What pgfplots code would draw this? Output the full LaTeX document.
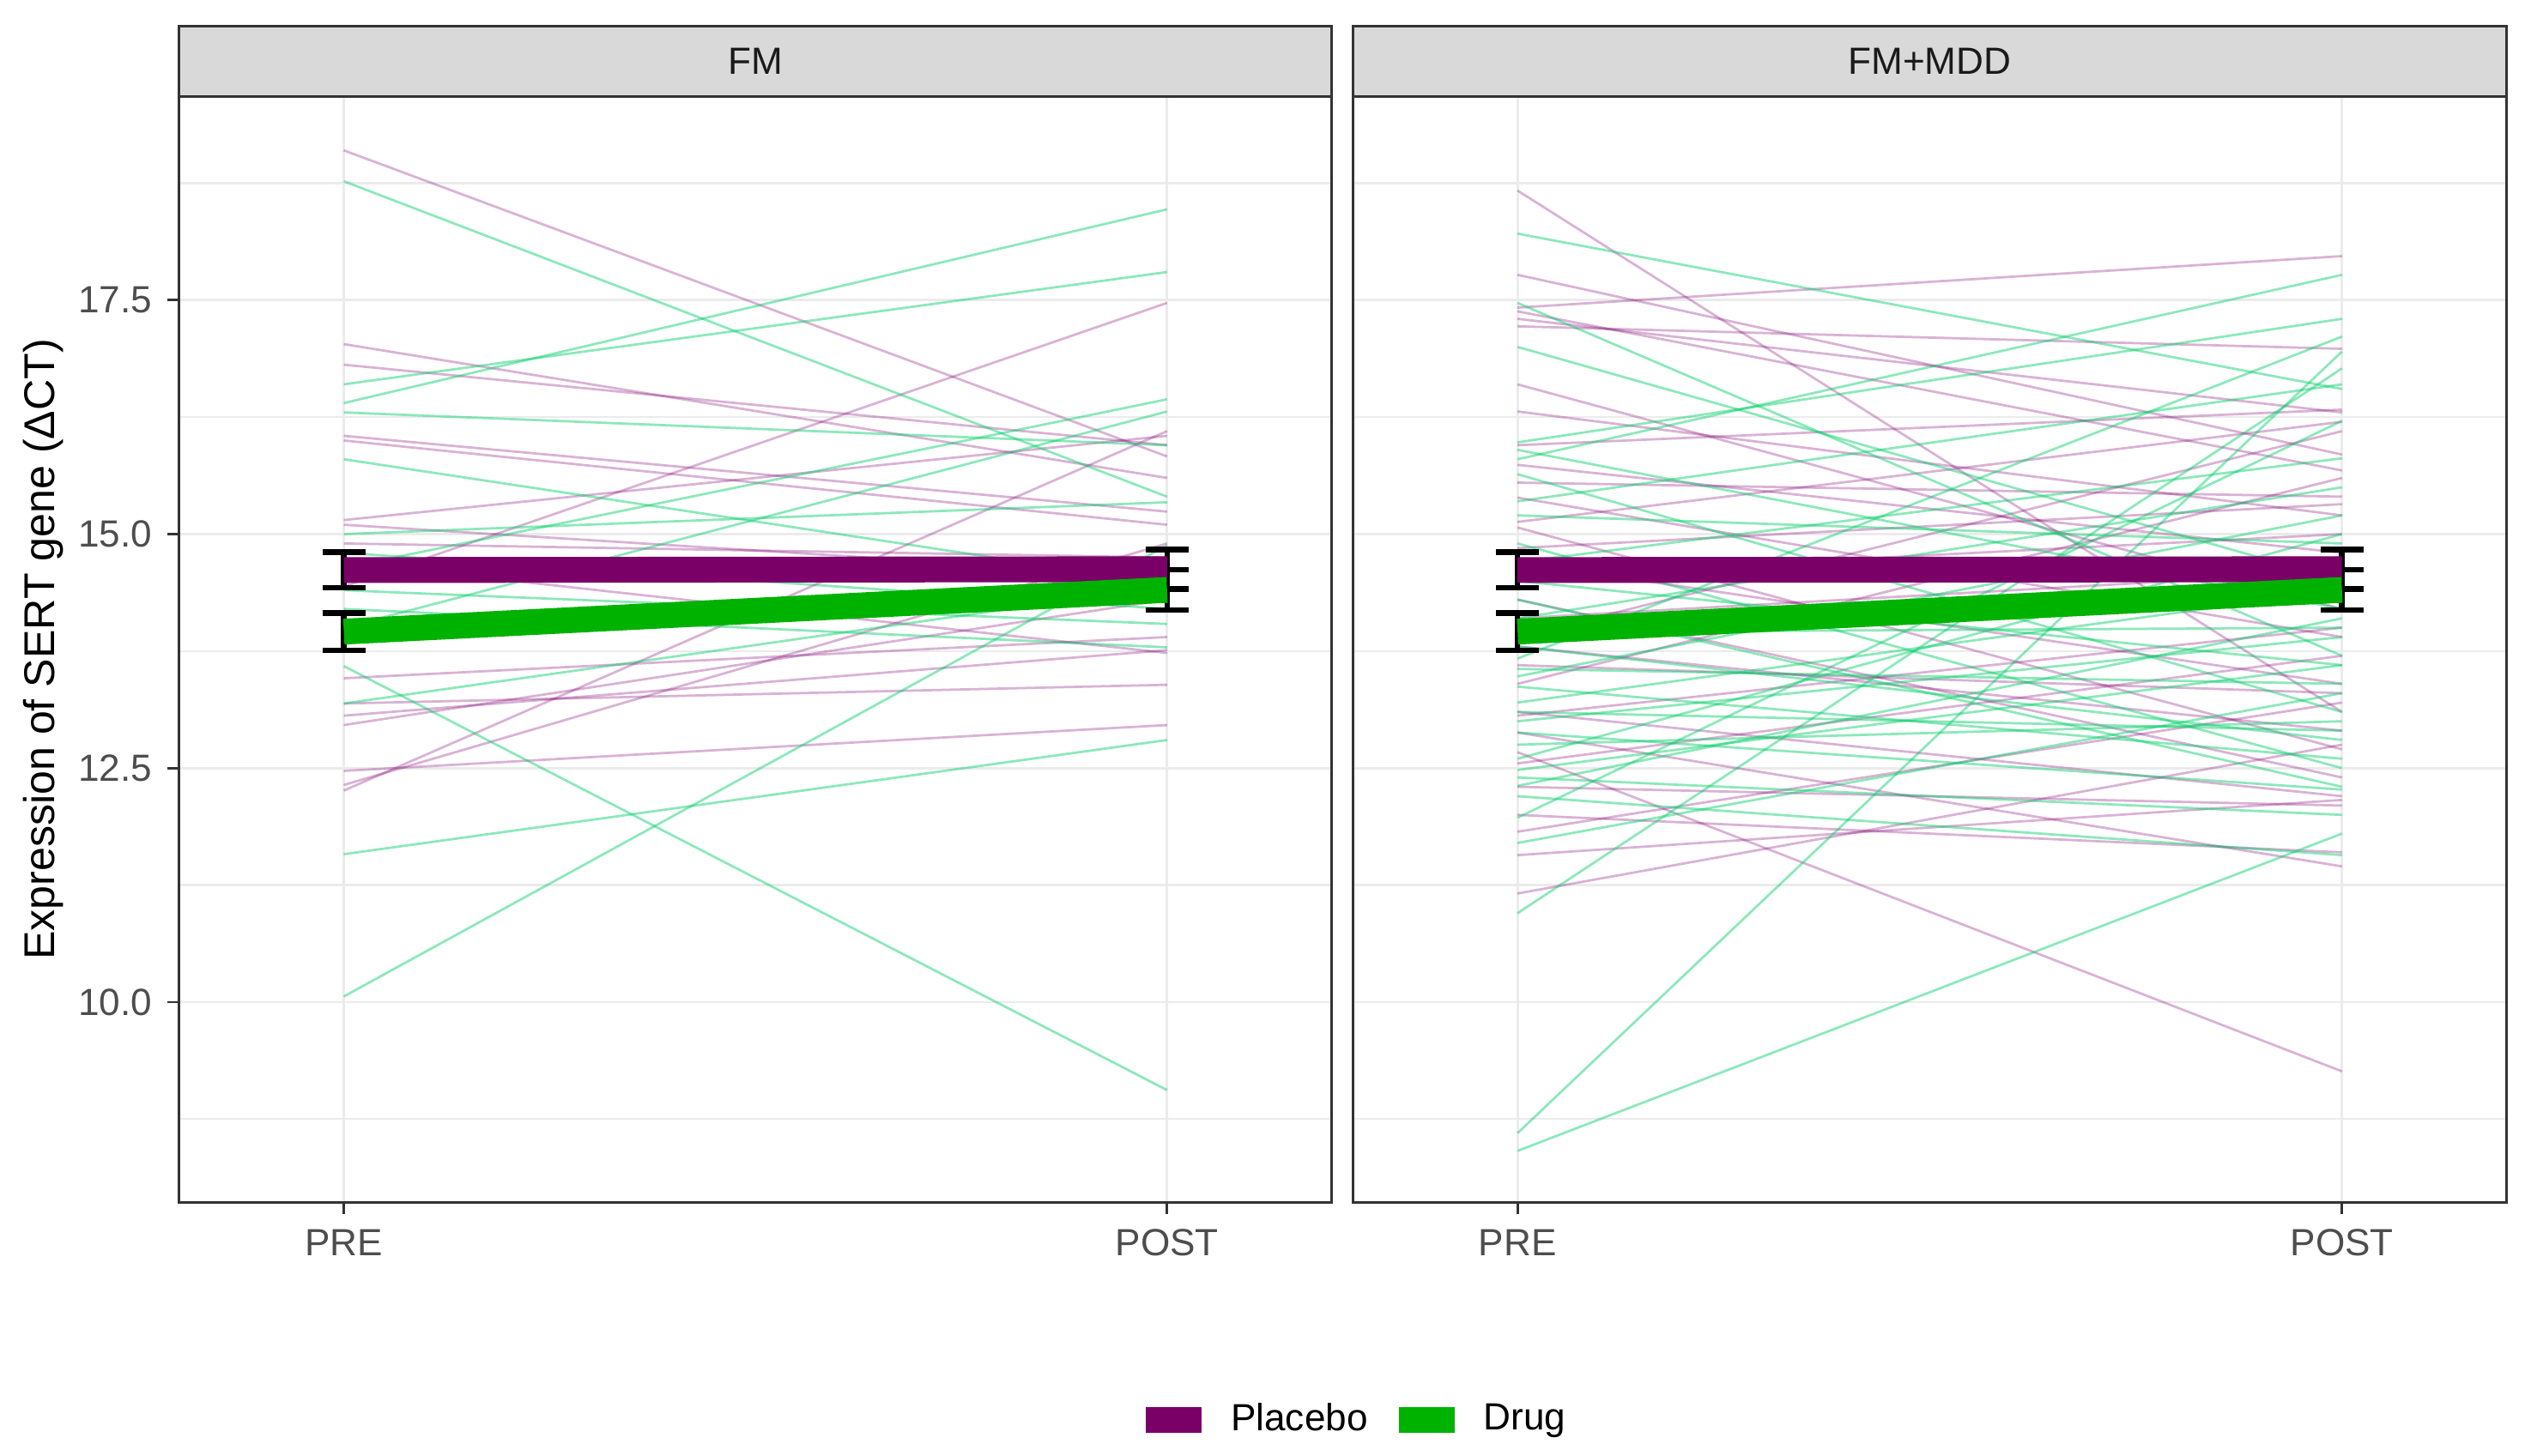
\documentclass[border=0pt]{standalone}
\usepackage{fontspec}
\setmainfont{Liberation Sans}
\usepackage{pgfplots}
\pgfplotsset{compat=1.18}
\definecolor{pmean}{RGB}{122,0,104}
\definecolor{dmean}{RGB}{0,178,0}
\definecolor{pthin}{RGB}{128,0,115}
\definecolor{dthin}{RGB}{0,205,102}
\definecolor{gridc}{RGB}{235,235,235}
\definecolor{framec}{RGB}{51,51,51}
\definecolor{ticklab}{RGB}{77,77,77}
\definecolor{stripfill}{RGB}{217,217,217}
\definecolor{striptext}{RGB}{26,26,26}
\pgfplotsset{
  panel/.style={
    scale only axis, height=256.875pt,
    xmin=-0.2, xmax=1.2, ymin=7.862, ymax=19.672,
    xtick={0,1}, xticklabels={PRE,POST},
    ytick={10,12.5,15,17.5}, minor ytick={8.75,11.25,13.75,16.25,18.75},
    xmajorgrids=true, ymajorgrids=true, yminorgrids=true,
    major grid style={gridc, line width=0.55pt},
    minor grid style={gridc, line width=0.45pt},
    axis line style={framec, line width=0.6pt},
    tick pos=left, tick align=outside, major tick length=2.75pt, minor tick length=0pt,
    tick style={framec, line width=0.55pt},
    ticklabel style={font=\fontsize{8.8}{10}\selectfont, text=ticklab},
    /pgf/number format/assume math mode=true,
    yticklabel style={/pgf/number format/.cd, fixed, fixed zerofill, precision=1},
    clip=false,
  },
  pl/.style={pthin, opacity=0.3, line width=0.55pt, forget plot, mark=none},
  dl/.style={dthin, opacity=0.45, line width=0.55pt, forget plot, mark=none},
  pm/.style={pmean, line width=6pt, mark=none},
  dm/.style={dmean, line width=6pt, mark=none},
  eb/.style={black, mark=none, forget plot,
    error bars/.cd, y dir=both, y explicit, error mark=|,
    error bar style={black, line width=1.3pt},
    error mark options={black, line width=1.3pt, mark size=5pt}},
}
\begin{document}
\begin{tikzpicture}
\useasboundingbox (0,0) rectangle (588pt,338.25pt);
% ---------------- FM panel ----------------
\begin{axis}[panel, at={(41.625pt,58.875pt)}, anchor=south west, width=267.75pt,
  ylabel={Expression of SERT gene (ΔCT)},
  ylabel style={font=\fontsize{10.5}{12}\selectfont, text=black},
  every axis y label/.style={at={(axis description cs:-0.1176,0.5)}, rotate=90, anchor=center},
  legend columns=2,
  legend image code/.code={\draw[#1] (0pt,0pt) -- (13pt,0pt);},
  legend style={at={(axis description cs:1.0154,-0.197)}, anchor=center, draw=none, fill=none,
    font=\fontsize{8.8}{10}\selectfont, nodes={inner sep=0pt},
    /tikz/every odd column/.append style={column sep=3.75pt},
    /tikz/every even column/.append style={column sep=4.2pt}},
]
\draw[framec, fill=stripfill, line width=0.6pt] (rel axis cs:0,1) rectangle (rel axis cs:1,1.0642);
\node[text=striptext, font=\fontsize{8.8}{10}\selectfont] at (rel axis cs:0.5,1.0321) {FM};
% placebo subjects
\addplot[pl] coordinates {(0,19.10) (1,15.83)};
\addplot[pl] coordinates {(0,17.03) (1,15.60)};
\addplot[pl] coordinates {(0,16.81) (1,15.95)};
\addplot[pl] coordinates {(0,16.05) (1,15.24)};
\addplot[pl] coordinates {(0,16.00) (1,15.10)};
\addplot[pl] coordinates {(0,15.15) (1,16.05)};
\addplot[pl] coordinates {(0,15.10) (1,14.55)};
\addplot[pl] coordinates {(0,14.90) (1,14.75)};
\addplot[pl] coordinates {(0,14.44) (1,17.47)};
\addplot[pl] coordinates {(0,14.70) (1,13.73)};
\addplot[pl] coordinates {(0,13.46) (1,13.90)};
\addplot[pl] coordinates {(0,13.19) (1,13.39)};
\addplot[pl] coordinates {(0,13.06) (1,13.76)};
\addplot[pl] coordinates {(0,12.96) (1,14.30)};
\addplot[pl] coordinates {(0,12.47) (1,12.96)};
\addplot[pl] coordinates {(0,12.32) (1,14.90)};
\addplot[pl] coordinates {(0,12.26) (1,16.10)};
% drug subjects
\addplot[dl] coordinates {(0,18.77) (1,15.40)};
\addplot[dl] coordinates {(0,16.60) (1,17.80)};
\addplot[dl] coordinates {(0,16.40) (1,18.47)};
\addplot[dl] coordinates {(0,16.30) (1,15.95)};
\addplot[dl] coordinates {(0,15.80) (1,14.47)};
\addplot[dl] coordinates {(0,15.00) (1,15.34)};
\addplot[dl] coordinates {(0,14.64) (1,16.44)};
\addplot[dl] coordinates {(0,14.00) (1,16.31)};
\addplot[dl] coordinates {(0,14.40) (1,14.04)};
\addplot[dl] coordinates {(0,13.59) (1,9.06)};
\addplot[dl] coordinates {(0,13.19) (1,14.44)};
\addplot[dl] coordinates {(0,11.58) (1,12.80)};
\addplot[dl] coordinates {(0,10.06) (1,14.88)};
\addplot[dl] coordinates {(0,14.20) (1,13.79)};
\addplot[dl] coordinates {(0,14.80) (1,14.20)};
% group means with error bars
\addplot[eb] coordinates {(0,14.616) +- (0,0.19)};
\addplot[eb] coordinates {(1,14.625) +- (0,0.21)};
\addplot[eb] coordinates {(0,13.958) +- (0,0.20)};
\addplot[eb] coordinates {(1,14.404) +- (0,0.217)};
\addplot[pm] coordinates {(0,14.616) (1,14.625)};
\addlegendentry{Placebo}
\addplot[dm] coordinates {(0,13.958) (1,14.404)};
\addlegendentry{Drug}
\end{axis}
% ---------------- FM+MDD panel ----------------
\begin{axis}[panel, at={(314.25pt,58.875pt)}, anchor=south west, width=268.125pt,
  yticklabels={}, major y tick style={draw=none}, minor y tick style={draw=none}]
\draw[framec, fill=stripfill, line width=0.6pt] (rel axis cs:0,1) rectangle (rel axis cs:1,1.0642);
\node[text=striptext, font=\fontsize{8.8}{10}\selectfont] at (rel axis cs:0.5,1.0321) {FM+MDD};
% placebo subjects
\addplot[pl] coordinates {(0,18.67) (1,13.10)};
\addplot[pl] coordinates {(0,17.77) (1,15.85)};
\addplot[pl] coordinates {(0,17.42) (1,17.97)};
\addplot[pl] coordinates {(0,17.38) (1,15.68)};
\addplot[pl] coordinates {(0,17.30) (1,16.30)};
\addplot[pl] coordinates {(0,17.22) (1,16.98)};
\addplot[pl] coordinates {(0,16.60) (1,14.20)};
\addplot[pl] coordinates {(0,16.31) (1,15.20)};
\addplot[pl] coordinates {(0,15.95) (1,16.33)};
\addplot[pl] coordinates {(0,15.74) (1,14.80)};
\addplot[pl] coordinates {(0,15.55) (1,15.40)};
\addplot[pl] coordinates {(0,15.39) (1,13.90)};
\addplot[pl] coordinates {(0,15.13) (1,16.20)};
\addplot[pl] coordinates {(0,15.07) (1,12.70)};
\addplot[pl] coordinates {(0,14.85) (1,15.32)};
\addplot[pl] coordinates {(0,14.70) (1,13.40)};
\addplot[pl] coordinates {(0,14.55) (1,15.00)};
\addplot[pl] coordinates {(0,14.30) (1,12.40)};
\addplot[pl] coordinates {(0,14.10) (1,14.60)};
\addplot[pl] coordinates {(0,13.90) (1,16.10)};
\addplot[pl] coordinates {(0,13.80) (1,12.90)};
\addplot[pl] coordinates {(0,13.60) (1,13.30)};
\addplot[pl] coordinates {(0,13.40) (1,15.60)};
\addplot[pl] coordinates {(0,13.10) (1,12.20)};
\addplot[pl] coordinates {(0,13.06) (1,14.00)};
\addplot[pl] coordinates {(0,12.88) (1,11.45)};
\addplot[pl] coordinates {(0,12.67) (1,9.26)};
\addplot[pl] coordinates {(0,12.55) (1,13.70)};
\addplot[pl] coordinates {(0,12.30) (1,12.10)};
\addplot[pl] coordinates {(0,12.00) (1,11.60)};
\addplot[pl] coordinates {(0,11.82) (1,13.20)};
\addplot[pl] coordinates {(0,11.57) (1,12.16)};
\addplot[pl] coordinates {(0,11.16) (1,12.75)};
% drug subjects
\addplot[dl] coordinates {(0,18.21) (1,16.55)};
\addplot[dl] coordinates {(0,17.47) (1,13.70)};
\addplot[dl] coordinates {(0,17.00) (1,14.50)};
\addplot[dl] coordinates {(0,15.98) (1,17.30)};
\addplot[dl] coordinates {(0,15.90) (1,14.20)};
\addplot[dl] coordinates {(0,15.80) (1,17.77)};
\addplot[dl] coordinates {(0,15.64) (1,13.10)};
\addplot[dl] coordinates {(0,15.35) (1,16.60)};
\addplot[dl] coordinates {(0,15.20) (1,14.90)};
\addplot[dl] coordinates {(0,14.90) (1,12.50)};
\addplot[dl] coordinates {(0,14.70) (1,15.81)};
\addplot[dl] coordinates {(0,14.50) (1,13.60)};
\addplot[dl] coordinates {(0,14.30) (1,12.30)};
\addplot[dl] coordinates {(0,14.10) (1,15.50)};
\addplot[dl] coordinates {(0,13.95) (1,14.00)};
\addplot[dl] coordinates {(0,13.80) (1,12.80)};
\addplot[dl] coordinates {(0,13.67) (1,17.11)};
\addplot[dl] coordinates {(0,13.56) (1,13.40)};
\addplot[dl] coordinates {(0,13.48) (1,15.20)};
\addplot[dl] coordinates {(0,13.37) (1,12.60)};
\addplot[dl] coordinates {(0,13.20) (1,14.40)};
\addplot[dl] coordinates {(0,13.00) (1,13.90)};
\addplot[dl] coordinates {(0,12.88) (1,12.27)};
\addplot[dl] coordinates {(0,12.75) (1,13.00)};
\addplot[dl] coordinates {(0,12.60) (1,15.00)};
\addplot[dl] coordinates {(0,12.48) (1,13.60)};
\addplot[dl] coordinates {(0,12.40) (1,12.00)};
\addplot[dl] coordinates {(0,12.31) (1,14.10)};
\addplot[dl] coordinates {(0,12.20) (1,11.57)};
\addplot[dl] coordinates {(0,11.97) (1,16.21)};
\addplot[dl] coordinates {(0,11.70) (1,13.30)};
\addplot[dl] coordinates {(0,10.95) (1,16.77)};
\addplot[dl] coordinates {(0,8.60) (1,16.95)};
\addplot[dl] coordinates {(0,8.41) (1,11.80)};
\addplot[dl] coordinates {(0,13.10) (1,12.90)};
% group means with error bars
\addplot[eb] coordinates {(0,14.616) +- (0,0.19)};
\addplot[eb] coordinates {(1,14.625) +- (0,0.21)};
\addplot[eb] coordinates {(0,13.958) +- (0,0.20)};
\addplot[eb] coordinates {(1,14.404) +- (0,0.217)};
\addplot[pm] coordinates {(0,14.616) (1,14.625)};
\addplot[dm] coordinates {(0,13.958) (1,14.404)};
\end{axis}
\end{tikzpicture}
\end{document}
